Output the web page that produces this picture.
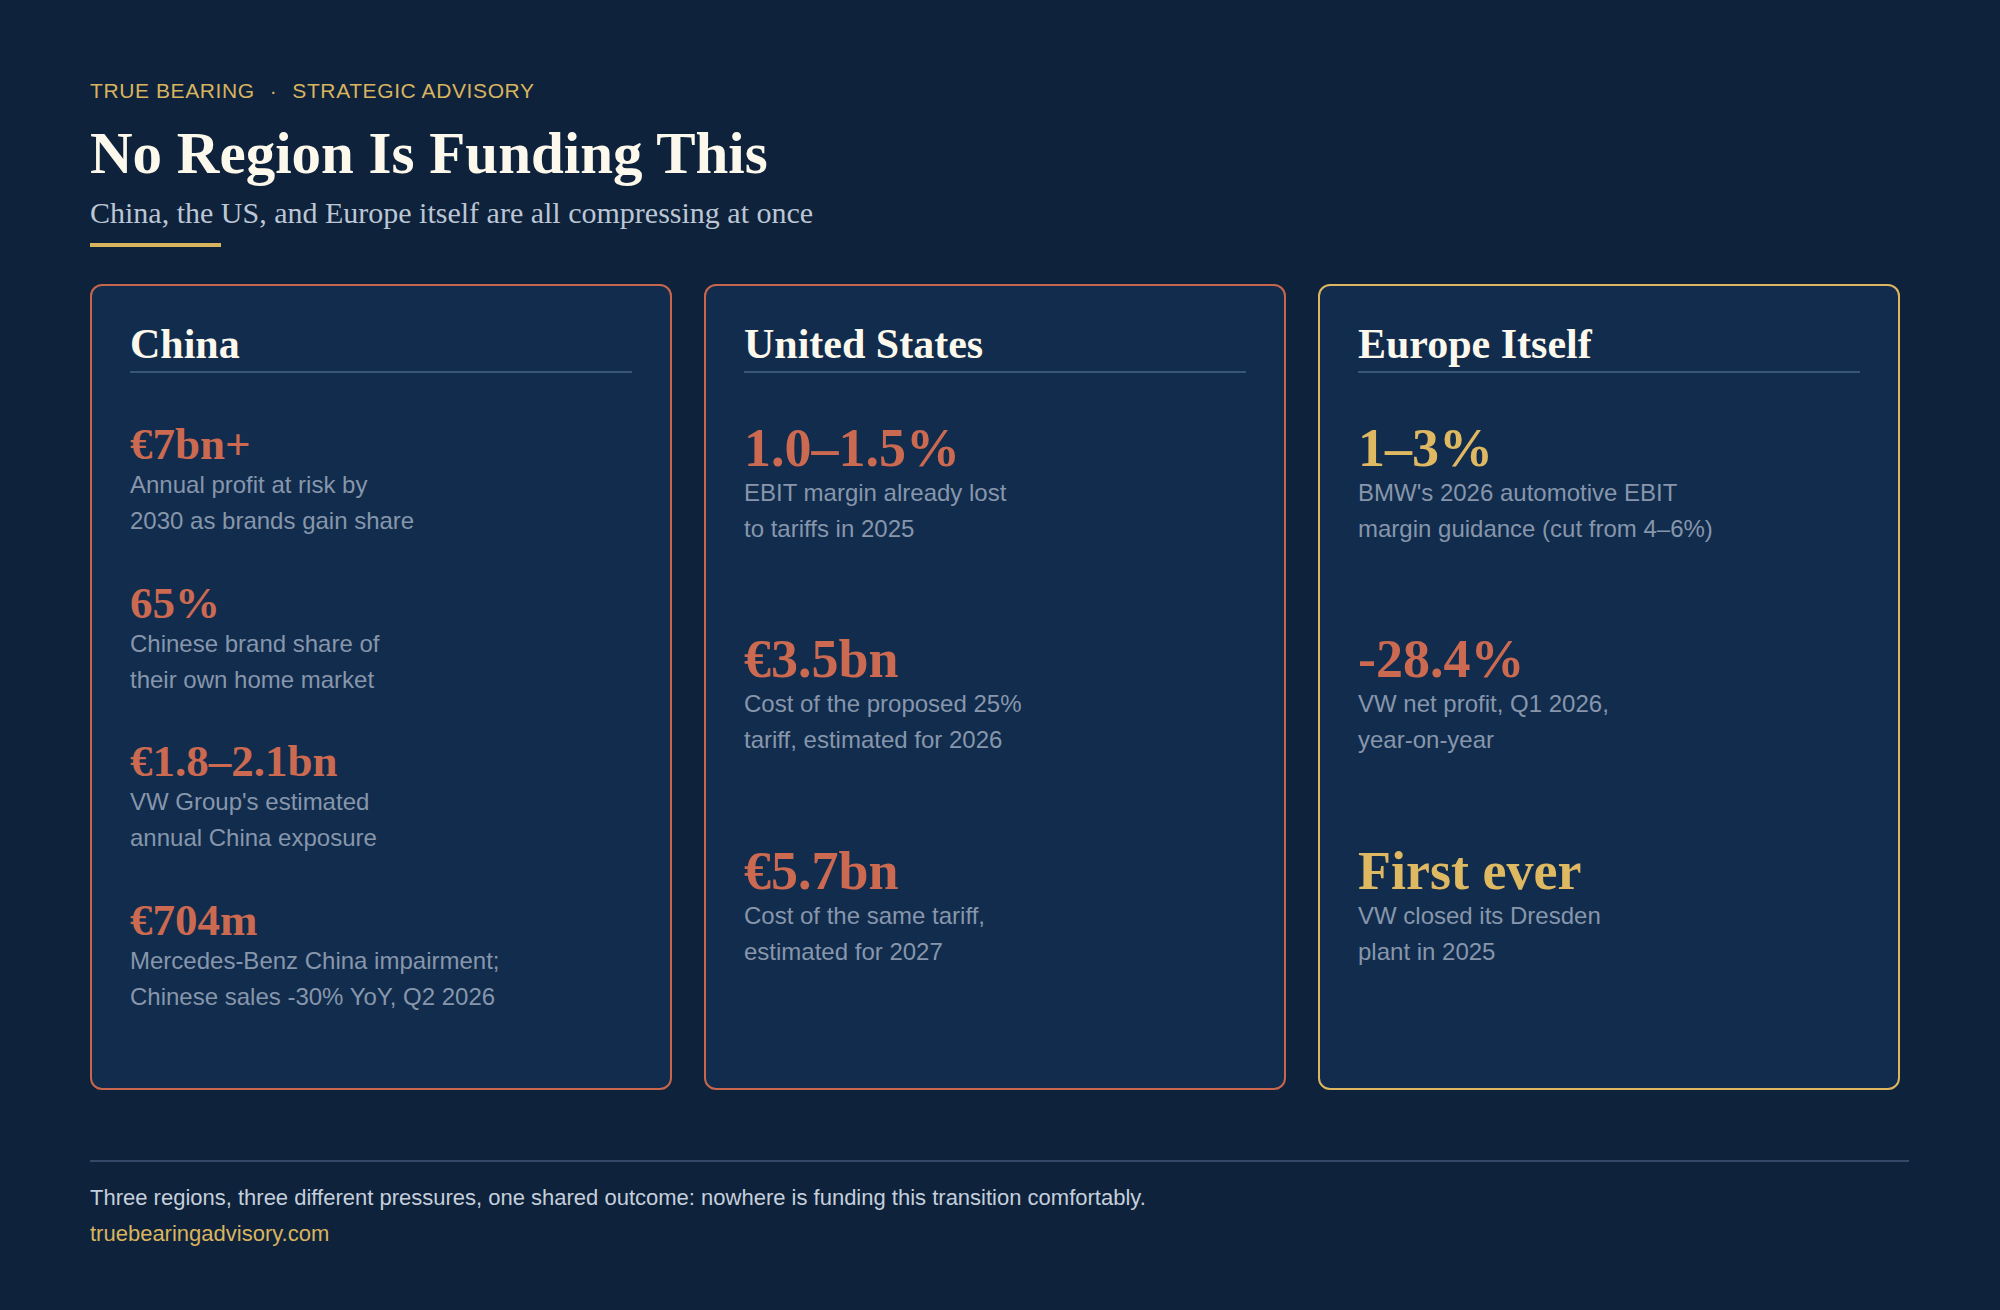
<!DOCTYPE html>
<html lang="en">
    <head>
        <meta charset="UTF-8">
        <title>No Region Is Funding This</title>
        <style>
            html, body { margin: 0; padding: 0; }
            body { width: 2000px; height: 1310px; background: #0e223b; position: relative; overflow: hidden; font-family: "Liberation Sans", Arial, sans-serif; }
            .label { position: absolute; left: 90px; top: 80px; font-size: 21px; line-height: 21px; letter-spacing: 0.6px; color: #d9b45f; white-space: nowrap; }
            .label .dot { margin: 0 15px; }
            .title { position: absolute; left: 90px; top: 124px; margin: 0; font-family: "Liberation Serif", serif; font-weight: bold; font-size: 59px; line-height: 59px; color: #fdf8ec; white-space: nowrap; }
            .subtitle { position: absolute; left: 90px; top: 198px; font-family: "Liberation Serif", serif; font-size: 30px; line-height: 30px; color: #bcc6d4; white-space: nowrap; }
            .underline { position: absolute; left: 90px; top: 243px; width: 131px; height: 4px; background: #d9b45f; }
            .card { position: absolute; top: 284px; width: 582px; height: 806px; box-sizing: border-box; border: 2.5px solid #c8664d; border-radius: 12px; background: #112c4d; }
            .card.gold { border-color: #ddb65f; }
            .card h2 { position: absolute; left: 38px; top: 37px; margin: 0; font-family: "Liberation Serif", serif; font-weight: bold; font-size: 42px; line-height: 42px; color: #fdf8ec; white-space: nowrap; }
            .card .rule { position: absolute; left: 38px; right: 38px; top: 85px; height: 2px; background: #3a5675; }
            .stats { position: absolute; left: 38px; right: 38px; top: 135px; height: 634px; display: flex; flex-direction: column; }
            .stat { flex: 1; }
            .value { font-family: "Liberation Serif", serif; font-weight: bold; font-size: 54px; line-height: 54px; white-space: nowrap; }
            .small .stat { padding-top: 1px; }
            .small .value { font-size: 45px; line-height: 45px; }
            .value.red { color: #cc6a51; }
            .value.gold { color: #dfb862; }
            .note { font-size: 24px; line-height: 36px; color: #8796ab; white-space: nowrap; }
            .footrule { position: absolute; left: 90px; top: 1160px; width: 1819px; height: 2px; background: #34496a; }
            .foot { position: absolute; left: 90px; top: 1187px; font-size: 22px; line-height: 22px; color: #c5cfdc; white-space: nowrap; }
            .site { position: absolute; left: 90px; top: 1223px; font-size: 22px; line-height: 22px; color: #d9b45f; white-space: nowrap; }
        </style>
    </head>
<body>
<div class="label">TRUE BEARING<span class="dot">·</span>STRATEGIC ADVISORY</div>
<h1 class="title">No Region Is Funding This</h1>
<div class="subtitle">China, the US, and Europe itself are all compressing at once</div>
<div class="underline"></div>
<div id="cards"></div>
<div class="footrule"></div>
<div class="foot">Three regions, three different pressures, one shared outcome: nowhere is funding this transition comfortably.</div>
<div class="site">truebearingadvisory.com</div>

<script src="https://cdn.jsdelivr.net/npm/chart.js"></script>
<script>
// regions, left to right
const regions = ['China', 'United States', 'Europe Itself'];

const chinaValues = ['€7bn+', '65%', '€1.8–2.1bn', '€704m'];
const chinaNotes = [
    ['Annual profit at risk by', '2030 as brands gain share'],
    ['Chinese brand share of', 'their own home market'],
    ["VW Group's estimated", 'annual China exposure'],
    ['Mercedes-Benz China impairment;', 'Chinese sales -30% YoY, Q2 2026']
];
const chinaTones = ['red', 'red', 'red', 'red'];

const usValues = ['1.0–1.5%', '€3.5bn', '€5.7bn'];
const usNotes = [
    ['EBIT margin already lost', 'to tariffs in 2025'],
    ['Cost of the proposed 25%', 'tariff, estimated for 2026'],
    ['Cost of the same tariff,', 'estimated for 2027']
];
const usTones = ['red', 'red', 'red'];

const europeValues = ['1–3%', '-28.4%', 'First ever'];
const europeNotes = [
    ["BMW's 2026 automotive EBIT", 'margin guidance (cut from 4–6%)'],
    ['VW net profit, Q1 2026,', 'year-on-year'],
    ['VW closed its Dresden', 'plant in 2025']
];
const europeTones = ['gold', 'red', 'gold'];

const cardLeft = [90, 704, 1318];
const cardBorder = ['red', 'red', 'gold'];

function buildCard(i, values, notes, tones) {
    const card = document.createElement('div');
    card.className = 'card ' + cardBorder[i] + (values.length > 3 ? ' small' : '');
    card.style.left = cardLeft[i] + 'px';

    let stats = '';
    values.forEach((v, k) => {
        stats += `
            <div class="stat">
                <div class="value ${tones[k]}">${v}</div>
                <div class="note">${notes[k].join('<br>')}</div>
            </div>`;
    });

    card.innerHTML = `
        <h2>${regions[i]}</h2>
        <div class="rule"></div>
        <div class="stats">${stats}</div>
    `;
    document.getElementById('cards').appendChild(card);
}

buildCard(0, chinaValues, chinaNotes, chinaTones);
buildCard(1, usValues, usNotes, usTones);
buildCard(2, europeValues, europeNotes, europeTones);
</script>
</body>
</html>
